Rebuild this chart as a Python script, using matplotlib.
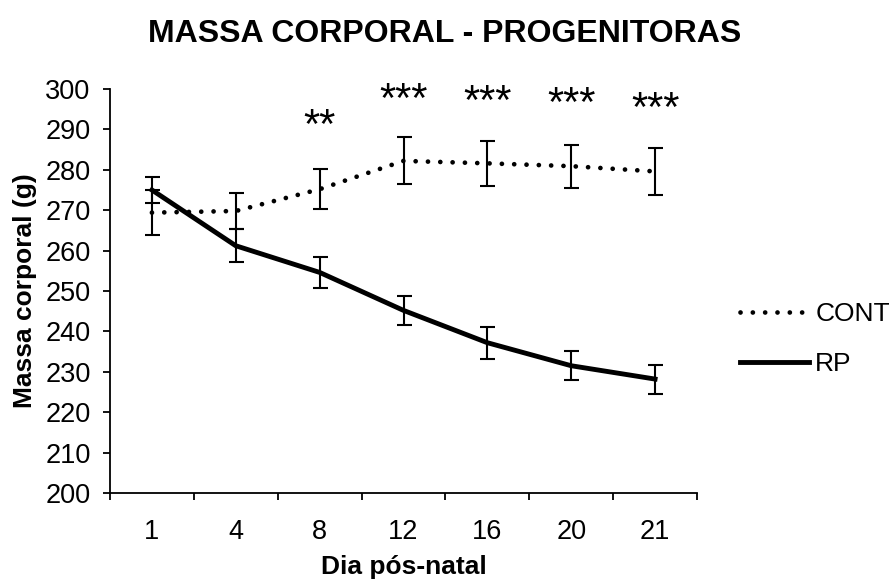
import matplotlib
matplotlib.use("Agg")
import matplotlib.pyplot as plt
import numpy as np

plt.rcParams['font.family'] = ['Liberation Sans', 'DejaVu Sans']

days = ["1", "4", "8", "12", "16", "20", "21"]
cont_mean = [269.4, 269.8, 275.2, 282.2, 281.6, 280.9, 279.6]
cont_err = [5.5, 4.4, 5.0, 5.8, 5.6, 5.3, 5.8]
rp_mean = [275.0, 261.2, 254.6, 245.2, 237.2, 231.5, 228.2]
rp_err = [3.3, 4.1, 3.9, 3.6, 4.0, 3.6, 3.6]
stars = ["", "", "**", "***", "***", "***", "***"]
star_y = [None, None, 287.9, 294.3, 293.8, 293.3, 292.1]

fig = plt.figure(figsize=(8.92, 5.82), dpi=100)
ax = fig.add_axes([110/892, 1 - 493/582, (697-110)/892, (493-89)/582])

x = np.arange(len(days))

ax.errorbar(x, cont_mean, yerr=cont_err, fmt='none', ecolor='black',
            elinewidth=1.5, capsize=5.4, capthick=1.5, zorder=2)
ax.errorbar(x, rp_mean, yerr=rp_err, fmt='none', ecolor='black',
            elinewidth=1.5, capsize=5.4, capthick=1.5, zorder=2)
l1, = ax.plot(x, cont_mean, color='black', lw=3.4, linestyle=(0, (0.01, 2.6)),
              dash_capstyle='round', solid_capstyle='round', label='CONT', zorder=3)
l2, = ax.plot(x, rp_mean, color='black', lw=3.5, label='RP', zorder=3)

for xi, s, yy in zip(x, stars, star_y):
    if s:
        ax.text(xi, yy, s, ha='center', va='baseline', fontsize=30)

ax.set_xlim(-0.5, len(days) - 0.5)
ax.set_ylim(200, 300)
ax.set_yticks(np.arange(200, 301, 10))
ax.set_xticks(x)
ax.set_xticklabels(days)
ax.set_xticks(np.arange(-0.5, len(days)), minor=True)
ax.tick_params(axis='x', which='major', length=0, pad=19, labelsize=19.5)
ax.tick_params(axis='x', which='minor', length=5, width=1.3, direction='out')
ax.tick_params(axis='y', length=5, width=1.3, direction='out', labelsize=19.5, pad=9)

for side in ['top', 'right']:
    ax.spines[side].set_visible(False)
for side in ['left', 'bottom']:
    ax.spines[side].set_linewidth(1.3)

ax.set_xlabel("Dia pós-natal", fontsize=19, fontweight='bold', labelpad=7)
ax.set_ylabel("Massa corporal (g)", fontsize=19, fontweight='bold', labelpad=6)
fig.suptitle("MASSA CORPORAL - PROGENITORAS", fontsize=23, fontweight='bold',
             x=445/892, y=1 - 19/582, va='top')

fig.legend(handles=[l1, l2], loc='center left', bbox_to_anchor=(740/892, 1 - 339/582),
           frameon=False, fontsize=19, handlelength=2.6, handletextpad=0.25,
           labelspacing=1.0, borderaxespad=0, borderpad=0)

fig.savefig("out.png", dpi=100)
